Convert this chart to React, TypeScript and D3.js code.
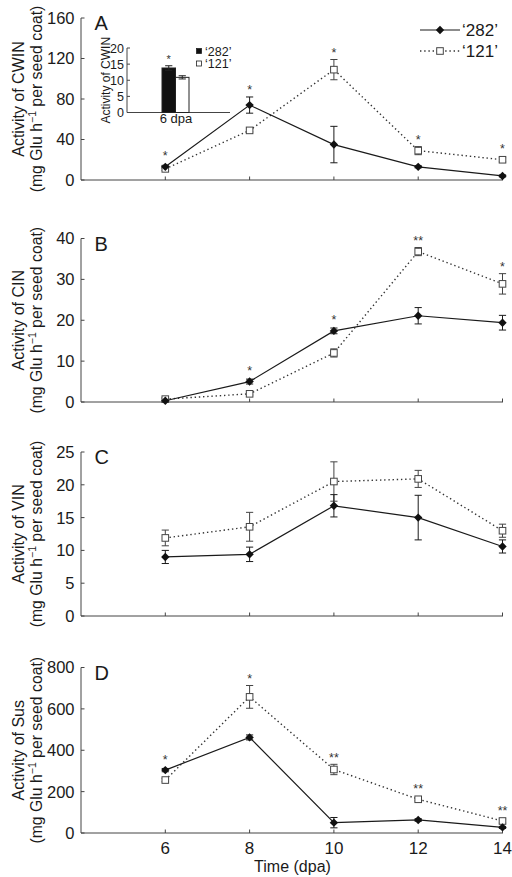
import React from "react";
import * as d3 from "d3";

const days = [6, 8, 10, 12, 14];
const xTicks = [6, 8, 10, 12, 14];

const cwin282 = [13, 74, 35, 13, 4];
const cwin282Err = [1.5, 8, 18, 1, 1];
const cwin121 = [11, 49, 109, 29, 20];
const cwin121Err = [1.5, 1.5, 10, 4, 2];
const sigA = ["*", "*", "*", "*", "*"];

const cin282 = [0.3, 5.0, 17.4, 21.1, 19.4];
const cin282Err = [0.5, 0.6, 0.7, 2.0, 1.8];
const cin121 = [0.7, 2.0, 12.0, 36.8, 28.9];
const cin121Err = [0.4, 0.3, 1.0, 1.0, 2.5];
const sigB = ["", "*", "*", "**", "*"];

const vin282 = [9.0, 9.4, 16.8, 15.0, 10.6];
const vin282Err = [1.0, 1.1, 1.7, 3.4, 1.0];
const vin121 = [11.9, 13.6, 20.5, 20.9, 13.0];
const vin121Err = [1.2, 2.2, 3.0, 1.3, 1.0];
const sigC = ["", "", "", "", ""];

const sus282 = [304, 462, 50, 63, 27];
const sus282Err = [8, 12, 25, 6, 5];
const sus121 = [256, 658, 307, 163, 58];
const sus121Err = [8, 55, 25, 8, 10];
const sigD = ["*", "*", "**", "**", "**"];

const insetCultivars = ["282", "121"];
const insetValues = [13.8, 10.9];
const insetErr = [0.7, 0.5];
const insetTicks = [0, 5, 10, 15, 20];

const FONT = "'Liberation Sans', Arial, Helvetica, sans-serif";
const AXIS = "#444";
const TXT = "#1a1a1a";

const panels = [
  { letter: "A", enzyme: "CWIN", top: 18, bottom: 180, max: 160, ticks: [0, 40, 80, 120, 160], a: cwin282, ae: cwin282Err, b: cwin121, be: cwin121Err, sig: sigA },
  { letter: "B", enzyme: "CIN", top: 238.5, bottom: 402, max: 40, ticks: [0, 10, 20, 30, 40], a: cin282, ae: cin282Err, b: cin121, be: cin121Err, sig: sigB },
  { letter: "C", enzyme: "VIN", top: 452, bottom: 616, max: 25, ticks: [0, 5, 10, 15, 20, 25], a: vin282, ae: vin282Err, b: vin121, be: vin121Err, sig: sigC },
  { letter: "D", enzyme: "Sus", top: 667.5, bottom: 833, max: 800, ticks: [0, 200, 400, 600, 800], a: sus282, ae: sus282Err, b: sus121, be: sus121Err, sig: sigD },
];

const x = d3.scaleLinear().domain([4, 14]).range([81, 502.5]);

function diamond(cx: number, cy: number, r = 4.2) {
  return `M${cx},${cy - r}L${cx + r},${cy}L${cx},${cy + r}L${cx - r},${cy}Z`;
}

function ErrBar({ cx, y0, y1, color }: { cx: number; y0: number; y1: number; color: string }) {
  const c = 3.6;
  return (
    <g stroke={color} strokeWidth={1}>
      <line x1={cx} x2={cx} y1={y0} y2={y1} />
      <line x1={cx - c} x2={cx + c} y1={y0} y2={y0} />
      <line x1={cx - c} x2={cx + c} y1={y1} y2={y1} />
    </g>
  );
}

function Panel({ p, last }: { p: any; last: boolean }) {
  const y = d3.scaleLinear().domain([0, p.max]).range([p.bottom, p.top]);
  const line = d3
    .line<number>()
    .x((_, i) => x(days[i]))
    .y((d) => y(d));
  const mid = (p.top + p.bottom) / 2;
  return (
    <g>
      <line x1={x(4)} x2={x(4)} y1={y(p.max)} y2={y(0)} stroke={AXIS} strokeWidth={1} />
      <line x1={x(4)} x2={x(14) + 0.5} y1={y(0)} y2={y(0)} stroke={AXIS} strokeWidth={1} />
      {p.ticks.map((t: number) => (
        <g key={t}>
          <line x1={x(4)} x2={x(4) + 3.5} y1={y(t)} y2={y(t)} stroke={AXIS} />
          <text x={74.5} y={y(t)} dy="0.36em" textAnchor="end" fontSize={16.5} fill={TXT}>
            {t}
          </text>
        </g>
      ))}
      {xTicks.map((t) => (
        <g key={t}>
          <line x1={x(t)} x2={x(t)} y1={y(0)} y2={y(0) - 3.5} stroke={AXIS} />
          {last && (
            <text x={x(t)} y={853.5} textAnchor="middle" fontSize={17} fill={TXT}>
              {t}
            </text>
          )}
        </g>
      ))}
      <text transform={`translate(23.5,${mid}) rotate(-90)`} textAnchor="middle" fontSize={16} fill={TXT}>
        {`Activity of ${p.enzyme}`}
      </text>
      <text transform={`translate(41.5,${mid}) rotate(-90)`} textAnchor="middle" fontSize={15.8} fill={TXT}>
        <tspan>(mg Glu h</tspan>
        <tspan dy={-5.5} fontSize={10.5}>−1</tspan>
        <tspan dy={5.5}> per seed coat)</tspan>
      </text>
      <text x={94.5} y={p.top + 12} fontSize={20} fill={TXT}>
        {p.letter}
      </text>
      <path d={line(p.b) || ""} fill="none" stroke="#333" strokeWidth={1.4} strokeDasharray="1.4,2.8" />
      <path d={line(p.a) || ""} fill="none" stroke="#1a1a1a" strokeWidth={1.2} />
      {days.map((d, i) => (
        <g key={"e" + d}>
          <ErrBar cx={x(d)} y0={y(p.b[i] + p.be[i])} y1={y(Math.max(0, p.b[i] - p.be[i]))} color="#444" />
          <ErrBar cx={x(d)} y0={y(p.a[i] + p.ae[i])} y1={y(Math.max(0, p.a[i] - p.ae[i]))} color="#1a1a1a" />
        </g>
      ))}
      {days.map((d, i) => (
        <g key={"m" + d}>
          <rect x={x(d) - 3.3} y={y(p.b[i]) - 3.3} width={6.6} height={6.6} fill="#fff" stroke="#444" strokeWidth={1} />
          <path d={diamond(x(d), y(p.a[i]))} fill="#111" />
        </g>
      ))}
      {days.map((d, i) => {
        if (!p.sig[i]) return null;
        const topY = Math.min(
          y(p.a[i] + p.ae[i]),
          y(p.b[i] + p.be[i]),
          y(p.a[i]) - 4,
          y(p.b[i]) - 4
        );
        return (
          <text key={"s" + d} x={x(d)} y={topY - 2.5} textAnchor="middle" fontSize={12.5} fill="#333">
            {p.sig[i]}
          </text>
        );
      })}
    </g>
  );
}

function Inset() {
  const y = d3.scaleLinear().domain([0, 20]).range([112.5, 48]);
  const xb = d3.scaleBand().domain(insetCultivars).range([162, 189]).paddingInner(0);
  return (
    <g>
      <line x1={127} x2={127} y1={y(20)} y2={y(0)} stroke={AXIS} />
      <line x1={127} x2={230} y1={y(0)} y2={y(0)} stroke={AXIS} />
      {insetTicks.map((t) => (
        <g key={t}>
          <line x1={127} x2={130} y1={y(t)} y2={y(t)} stroke={AXIS} />
          <text x={124} y={y(t)} dy="0.36em" textAnchor="end" fontSize={12.5} fill={TXT}>
            {t}
          </text>
        </g>
      ))}
      <text transform={`translate(110,${(y(0) + y(20)) / 2}) rotate(-90)`} textAnchor="middle" fontSize={12} fill={TXT}>
        Activity of CWIN
      </text>
      {insetCultivars.map((c, i) => {
        const bx = xb(c) as number;
        const bw = xb.bandwidth();
        return (
          <g key={c}>
            <rect x={bx} y={y(insetValues[i])} width={bw} height={y(0) - y(insetValues[i])} fill={i === 0 ? "#111" : "#fff"} stroke="#222" strokeWidth={1} />
            <ErrBar cx={bx + bw / 2} y0={y(insetValues[i] + insetErr[i])} y1={y(insetValues[i] - insetErr[i])} color="#222" />
          </g>
        );
      })}
      <text x={(xb("282") as number) + xb.bandwidth() / 2} y={y(insetValues[0] + insetErr[0]) - 3} textAnchor="middle" fontSize={11} fill="#333">
        *
      </text>
      <text x={176} y={122.5} textAnchor="middle" fontSize={13} fill={TXT}>
        6 dpa
      </text>
      {insetCultivars.map((c, i) => (
        <g key={"l" + c}>
          <rect x={196.5} y={51 + i * 12.5 - 2.5} width={5} height={5} fill={i === 0 ? "#111" : "#fff"} stroke="#222" strokeWidth={0.8} />
          <text x={205} y={51 + i * 12.5} dy="0.36em" fontSize={12.5} fill={TXT}>
            {`‘${c}’`}
          </text>
        </g>
      ))}
    </g>
  );
}

function Legend() {
  return (
    <g>
      <line x1={420} x2={460} y1={30} y2={30} stroke="#1a1a1a" strokeWidth={1.2} />
      <path d={diamond(440, 30)} fill="#111" />
      <text x={462} y={30} dy="0.36em" fontSize={17} fill={TXT}>
        ‘282’
      </text>
      <line x1={420} x2={460} y1={51} y2={51} stroke="#333" strokeWidth={1.4} strokeDasharray="1.4,2.8" />
      <rect x={440 - 3.3} y={51 - 3.3} width={6.6} height={6.6} fill="#fff" stroke="#444" />
      <text x={462} y={51} dy="0.36em" fontSize={17} fill={TXT}>
        ‘121’
      </text>
    </g>
  );
}

export default function App() {
  return (
    <svg
      width={512}
      height={877}
      style={{ position: "absolute", left: 0, top: 0, background: "#fff" }}
      fontFamily={FONT}
    >
      <rect width={512} height={877} fill="#fff" />
      {panels.map((p, i) => (
        <Panel key={p.letter} p={p} last={i === panels.length - 1} />
      ))}
      <Inset />
      <Legend />
      <text x={292.5} y={872} textAnchor="middle" fontSize={16} fill={TXT}>
        Time (dpa)
      </text>
    </svg>
  );
}
